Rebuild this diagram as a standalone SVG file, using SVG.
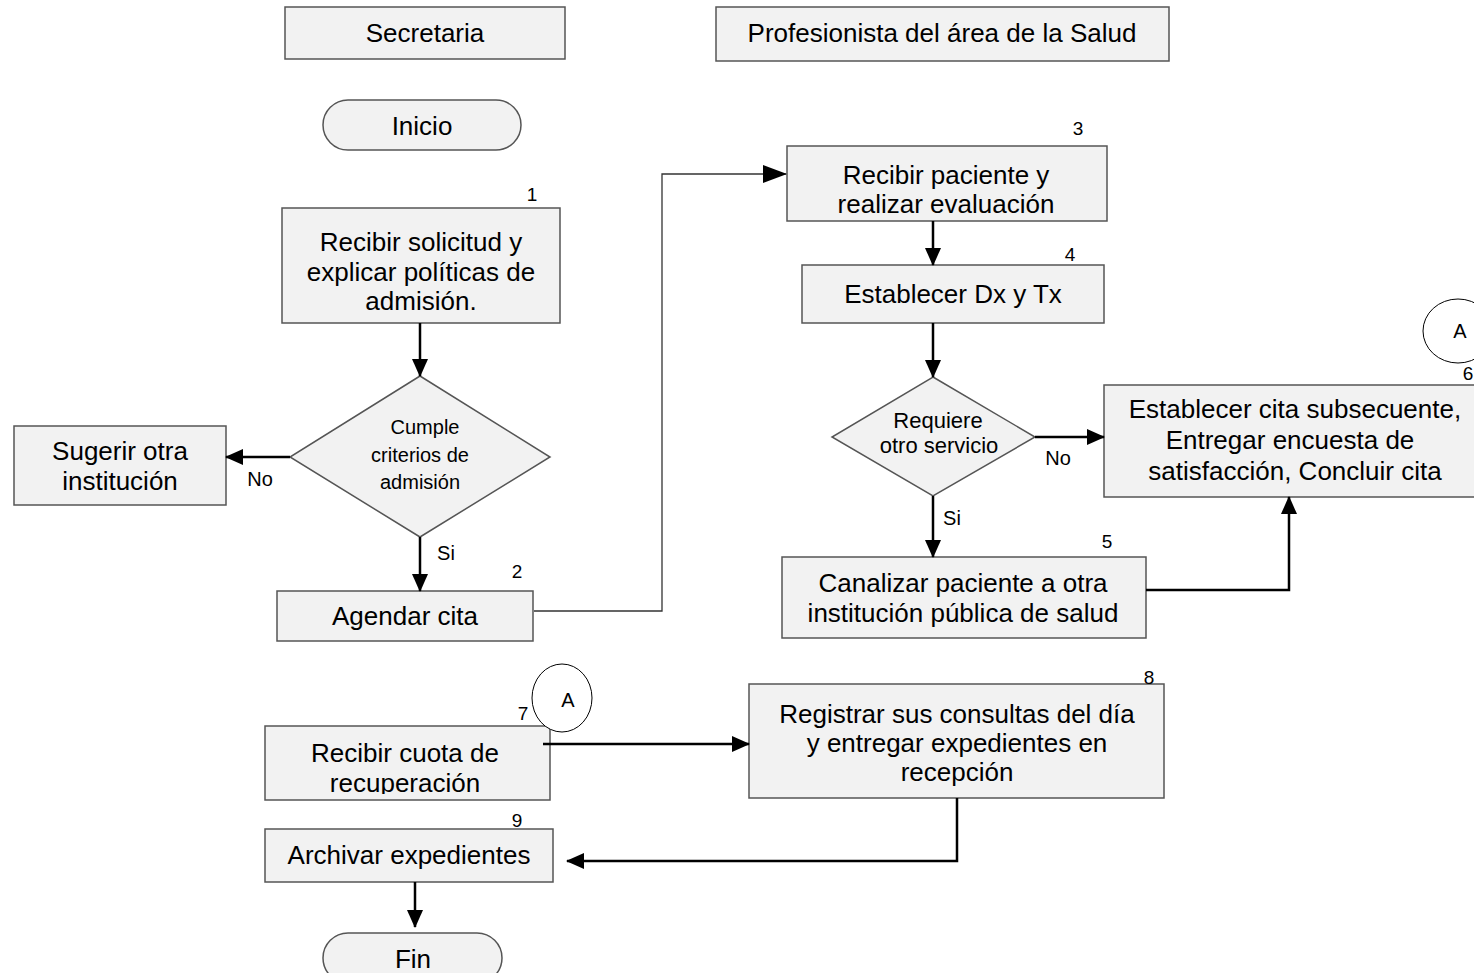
<svg xmlns="http://www.w3.org/2000/svg" width="1474" height="973" viewBox="0 0 1474 973">
<style>
text{font-family:"Liberation Sans",Arial,sans-serif;fill:#000;text-anchor:middle}
.b{fill:#f2f2f2;stroke:#555;stroke-width:1.5}
.t{font-size:26px}
.d{font-size:20px}
.d2{font-size:22px}
.n{font-size:19px}
.c{fill:#fff;stroke:#000;stroke-width:1}
.k{fill:none;stroke:#000;stroke-width:2.5}
.th{fill:none;stroke:#333;stroke-width:1.3}
</style>
<defs>
<marker id="ah" markerUnits="userSpaceOnUse" markerWidth="18" markerHeight="16" refX="17" refY="8" orient="auto"><path d="M0,0 L18,8 L0,16 z" fill="#000"/></marker>
<marker id="ahl" markerUnits="userSpaceOnUse" markerWidth="24" markerHeight="18" refX="23" refY="9" orient="auto"><path d="M0,0 L24,9 L0,18 z" fill="#000"/></marker>
<clipPath id="cp7"><rect x="265" y="726" width="285" height="68"/></clipPath>
</defs>

<g id="hdr1"><rect class="b" x="285" y="7" width="280" height="52"/><text class="t" x="425" y="42">Secretaria</text></g>
<g id="hdr2"><rect class="b" x="716" y="7" width="453" height="54"/><text class="t" x="942" y="42">Profesionista del área de la Salud</text></g>

<g id="inicio"><rect class="b" x="323" y="100" width="198" height="50" rx="25" ry="25"/><text class="t" x="422" y="135">Inicio</text></g>

<g id="n1"><rect class="b" x="282" y="208" width="278" height="115"/>
<text class="n" x="532" y="201">1</text>
<text class="t" x="421" y="251">Recibir solicitud y</text>
<text class="t" x="421" y="281">explicar políticas de</text>
<text class="t" x="421" y="310">admisión.</text></g>

<g id="dec1"><polygon class="b" points="420,376 550,457 420,537 290,457"/>
<text class="d" x="425" y="434">Cumple</text>
<text class="d" x="420" y="462">criterios de</text>
<text class="d" x="420" y="489">admisión</text></g>

<g id="sugerir"><rect class="b" x="14" y="426" width="212" height="79"/>
<text class="t" x="120" y="460">Sugerir otra</text>
<text class="t" x="120" y="490">institución</text></g>

<g id="n2"><rect class="b" x="277" y="591" width="256" height="50"/>
<text class="n" x="517" y="578">2</text>
<text class="t" x="405" y="625">Agendar cita</text></g>

<g id="n3"><rect class="b" x="787" y="146" width="320" height="75"/>
<text class="n" x="1078" y="135">3</text>
<text class="t" x="946" y="184">Recibir paciente y</text>
<text class="t" x="946" y="213">realizar evaluación</text></g>

<g id="n4"><rect class="b" x="802" y="265" width="302" height="58"/>
<text class="n" x="1070" y="261">4</text>
<text class="t" x="953" y="303">Establecer Dx y Tx</text></g>

<g id="dec2"><polygon class="b" points="933,377 1035,437 933,496 832,437"/>
<text class="d2" x="938" y="428">Requiere</text>
<text class="d2" x="939" y="453">otro servicio</text></g>

<g id="n5"><rect class="b" x="782" y="557" width="364" height="81"/>
<text class="n" x="1107" y="548">5</text>
<text class="t" x="963" y="592">Canalizar paciente a otra</text>
<text class="t" x="963" y="622">institución pública de salud</text></g>

<g id="n6"><rect class="b" x="1104" y="385" width="380" height="112"/>
<text class="n" x="1468" y="380">6</text>
<text class="t" x="1295" y="418">Establecer cita subsecuente,</text>
<text class="t" x="1290" y="449">Entregar encuesta de</text>
<text class="t" x="1295" y="480">satisfacción, Concluir cita</text></g>

<g id="conA1"><ellipse class="c" cx="1458" cy="331" rx="35" ry="32"/><text class="d" x="1460" y="338">A</text></g>

<g id="n7"><rect class="b" x="265" y="726" width="285" height="74"/>
<text class="n" x="523" y="720">7</text>
<g clip-path="url(#cp7)">
<text class="t" x="405" y="762">Recibir cuota de</text>
<text class="t" x="405" y="792">recuperación</text></g></g>

<g id="conA2"><ellipse class="c" cx="562" cy="698" rx="30" ry="34"/><text class="d" x="568" y="707">A</text></g>

<g id="n8"><rect class="b" x="749" y="684" width="415" height="114"/>
<text class="n" x="1149" y="684">8</text>
<text class="t" x="957" y="723">Registrar sus consultas del día</text>
<text class="t" x="957" y="752">y entregar expedientes en</text>
<text class="t" x="957" y="781">recepción</text></g>

<g id="n9"><rect class="b" x="265" y="829" width="288" height="53"/>
<text class="n" x="517" y="827">9</text>
<text class="t" x="409" y="864">Archivar expedientes</text></g>

<g id="fin"><rect class="b" x="323" y="933" width="179" height="50" rx="25" ry="25"/><text class="t" x="413" y="968">Fin</text></g>

<g id="connectors">
<line class="k" x1="420" y1="323" x2="420" y2="376" marker-end="url(#ah)"/>
<line class="k" x1="290" y1="457" x2="226" y2="457" marker-end="url(#ah)"/>
<text class="d" x="260" y="486">No</text>
<line class="k" x1="420" y1="537" x2="420" y2="591" marker-end="url(#ah)"/>
<text class="d" x="446" y="560">Si</text>
<polyline class="th" points="534,611 662,611 662,174 786,174" marker-end="url(#ahl)"/>
<line class="k" x1="933" y1="221" x2="933" y2="265" marker-end="url(#ah)"/>
<line class="k" x1="933" y1="323" x2="933" y2="377" marker-end="url(#ah)"/>
<line class="k" x1="1035" y1="437" x2="1104" y2="437" marker-end="url(#ah)"/>
<text class="d" x="1058" y="465">No</text>
<line class="k" x1="933" y1="496" x2="933" y2="557" marker-end="url(#ah)"/>
<text class="d" x="952" y="525">Si</text>
<polyline class="k" points="1146,590 1289,590 1289,497" marker-end="url(#ah)"/>
<line class="k" x1="543" y1="744" x2="749" y2="744" marker-end="url(#ah)"/>
<polyline class="k" points="957,798 957,861 567,861" marker-end="url(#ah)"/>
<line class="k" x1="415" y1="882" x2="415" y2="927" marker-end="url(#ah)"/>
</g>
</svg>
